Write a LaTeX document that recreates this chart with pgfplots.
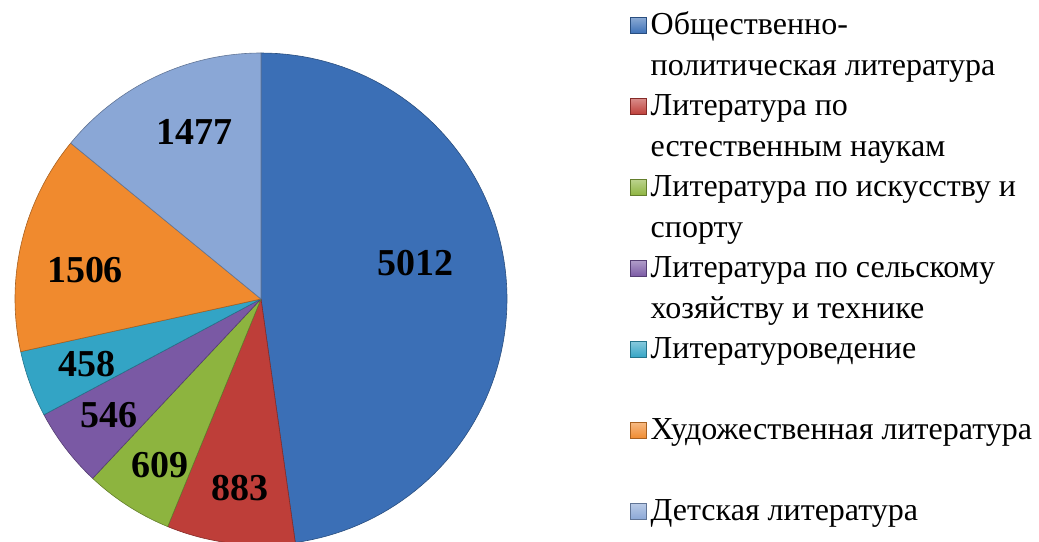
\documentclass[border=0pt]{standalone}
\usepackage{fontspec}
\setmainfont{Liberation Serif}
\newfontfamily\legfont{Liberation Serif}
\usepackage{pgfplots}
\usepackage{pgfplotstable}
\pgfplotsset{compat=1.18}

\definecolor{cA}{HTML}{3B6FB6}
\definecolor{cB}{HTML}{BE3E39}
\definecolor{cC}{HTML}{8DB43F}
\definecolor{cD}{HTML}{7A59A4}
\definecolor{cE}{HTML}{33A4C5}
\definecolor{cF}{HTML}{F08A2E}
\definecolor{cG}{HTML}{8AA7D6}

% slice values, clockwise from 12 o'clock
\pgfplotstableread{
value colour
5012 cA
883  cB
609  cC
546  cD
458  cE
1506 cF
1477 cG
}\piedata

% label positions (px from pie centre)
\pgfplotstableread{
x y label
154 36 5012
-21 -189 883
-101 -166 609
-152 -116 546
-174 -65 458
-176 29 1506
-67 167 1477
}\labeldata

\pgfmathsetmacro\total{0}
\pgfplotsforeachungrouped \i in {0,...,6}{%
  \pgfplotstablegetelem{\i}{value}\of\piedata
  \pgfmathsetmacro\total{\total+\pgfplotsretval}%
}

\pgfplotsset{
  sq/.style={legend image code/.code={%
    \draw[##1, line width=0.5pt] (0pt,13pt) rectangle (16pt,29pt);}},
}

\begin{document}
\begin{tikzpicture}
\begin{axis}[
    width=1039pt, height=542pt,
    scale only axis,
    hide axis,
    xmin=-261, xmax=778,
    ymin=-243, ymax=299,
    legend style={
        at={(axis cs:369,293)}, anchor=north west,
        draw=none, fill=none, inner sep=0pt,
        font=\legfont\fontsize{32}{40.5}\selectfont,
        row sep=0pt,
        nodes={inner xsep=4pt, inner ysep=0pt, text depth=, align=left},
    },
    legend cell align=left,
]
\pgfmathsetmacro\cum{0}
\pgfplotsforeachungrouped \i in {0,...,6}{%
  \pgfplotstablegetelem{\i}{value}\of\piedata
  \let\sval\pgfplotsretval
  \pgfplotstablegetelem{\i}{colour}\of\piedata
  \let\scol\pgfplotsretval
  \pgfmathsetmacro\sa{90-360*(\cum/\total)}%
  \pgfmathsetmacro\cum{\cum+\sval}%
  \pgfmathsetmacro\sb{90-360*(\cum/\total)}%
  \edef\tmp{\noexpand\addplot[forget plot, fill=\scol, draw=\scol!70!black,
      line width=0.6pt, line join=round, domain=\sb:\sa, samples=90,
      variable=\noexpand\t]
      ({246*cos(\noexpand\t)},{246*sin(\noexpand\t)}) -- (axis cs:0,0) -- cycle;}%
  \tmp
}

\addplot[forget plot, only marks, mark=none, nodes near coords,
    point meta=explicit symbolic,
    nodes near coords style={anchor=center, font=\fontsize{38}{40}\selectfont\bfseries}]
    table[x=x, y=y, meta=label] {\labeldata};

\addlegendimage{sq, top color=cA!60!white, bottom color=cA, draw=cA!70!black}
\addlegendentry{\strut Общественно-\\\strut политическая литература}
\addlegendimage{sq, top color=cB!60!white, bottom color=cB, draw=cB!70!black}
\addlegendentry{\strut Литература по\\\strut естественным наукам}
\addlegendimage{sq, top color=cC!60!white, bottom color=cC, draw=cC!70!black}
\addlegendentry{\strut Литература по искусству и\\\strut спорту}
\addlegendimage{sq, top color=cD!60!white, bottom color=cD, draw=cD!70!black}
\addlegendentry{\strut Литература по сельскому\\\strut хозяйству и технике}
\addlegendimage{sq, top color=cE!60!white, bottom color=cE, draw=cE!70!black}
\addlegendentry{\strut Литературоведение\\\strut}
\addlegendimage{sq, top color=cF!60!white, bottom color=cF, draw=cF!70!black}
\addlegendentry{\strut Художественная литература\\\strut}
\addlegendimage{sq, top color=cG!60!white, bottom color=cG, draw=cG!70!black}
\addlegendentry{\strut Детская литература\\\strut}
\end{axis}
\pgfresetboundingbox
\useasboundingbox (current axis.south west) rectangle (current axis.north east);
\end{tikzpicture}
\end{document}
